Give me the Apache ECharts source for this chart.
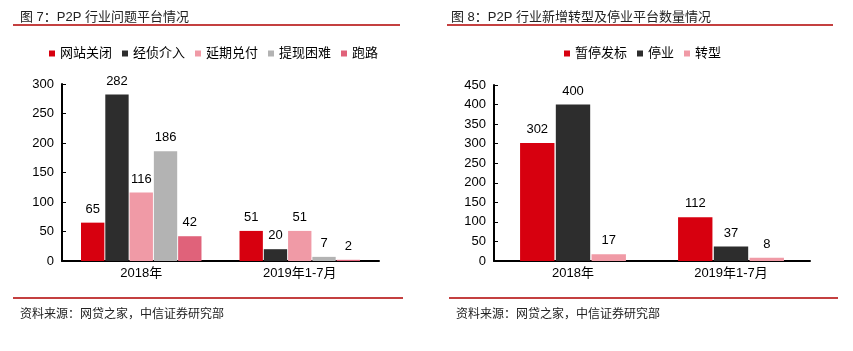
<!DOCTYPE html>
<html>
<head>
<meta charset="utf-8">
<script src="https://cdn.jsdelivr.net/npm/echarts@6/dist/echarts.min.js"></script>
<style>
html, body { margin: 0; padding: 0; background: #fff; }
#main { width: 853px; height: 351px; }
</style>
</head>
<body>
<div id="main"></div>
<script>
var categories = ["2018年", "2019年1-7月"];

// 图7
var names1 = ["网站关闭", "经侦介入", "延期兑付", "提现困难", "跑路"];
var colors1 = ["#d7000f", "#2d2d2d", "#f09aa6", "#b3b3b3", "#e0627a"];
var siteClosed = [65, 51];
var police = [282, 20];
var delayed = [116, 51];
var withdraw = [186, 7];
var runaway = [42, 2];
var values1 = [siteClosed, police, delayed, withdraw, runaway];
var ticks1 = { max: 300, interval: 50 };

// 图8
var names2 = ["暂停发标", "停业", "转型"];
var colors2 = ["#d7000f", "#2d2d2d", "#f09aa6"];
var paused = [302, 112];
var stopped = [400, 37];
var transformed = [17, 8];
var values2 = [paused, stopped, transformed];
var ticks2 = { max: 450, interval: 50 };

var fontFamily = "Liberation Sans, Arial, Noto Sans CJK SC, sans-serif";
var chart = echarts.init(document.getElementById("main"));

function makeSeries(names, colors, values, idx, catGap) {
    return names.map(function (n, i) {
        return {
            name: n,
            type: "bar",
            xAxisIndex: idx,
            yAxisIndex: idx,
            data: values[i],
            barGap: "4%",
            barCategoryGap: catGap,
            itemStyle: { color: colors[i] },
            label: {
                show: true,
                position: "top",
                distance: 7,
                color: "#000",
                fontSize: 13,
                fontFamily: fontFamily
            }
        };
    });
}

function xAxis(idx) {
    return {
        type: "category",
        gridIndex: idx,
        data: categories,
        axisLine: { lineStyle: { color: "#000", width: 2 } },
        axisTick: { inside: true, length: 4, lineStyle: { color: "#000" } },
        axisLabel: { color: "#000", fontSize: 13, margin: 6, fontFamily: fontFamily }
    };
}

function yAxis(idx, t) {
    return {
        type: "value",
        gridIndex: idx,
        min: 0,
        max: t.max,
        interval: t.interval,
        splitLine: { show: false },
        axisLine: { show: true, lineStyle: { color: "#000", width: 2 } },
        axisTick: { show: true, inside: true, length: 4, lineStyle: { color: "#000" } },
        axisLabel: { color: "#000", fontSize: 13, margin: 8, fontFamily: fontFamily }
    };
}

function hline(x1, x2, y) {
    return {
        type: "line",
        shape: { x1: x1, y1: y, x2: x2, y2: y },
        style: { stroke: "#b00000", lineWidth: 1.5 }
    };
}

var legendText = { color: "#000", fontSize: 13, fontFamily: fontFamily };

chart.setOption({
    animation: false,
    title: [
        { text: "图 7：P2P 行业问题平台情况", left: 15, top: 6, textStyle: { fontSize: 13, fontWeight: "normal", color: "#222", fontFamily: fontFamily } },
        { text: "图 8：P2P 行业新增转型及停业平台数量情况", left: 446, top: 6, textStyle: { fontSize: 13, fontWeight: "normal", color: "#222", fontFamily: fontFamily } },
        { text: "资料来源：网贷之家，中信证券研究部", left: 15, top: 304, textStyle: { fontSize: 12, fontWeight: "normal", color: "#222", fontFamily: fontFamily } },
        { text: "资料来源：网贷之家，中信证券研究部", left: 451, top: 304, textStyle: { fontSize: 12, fontWeight: "normal", color: "#222", fontFamily: fontFamily } }
    ],
    legend: [
        { data: names1, left: 44, top: 42, itemWidth: 6, itemHeight: 6, itemGap: 10, icon: "rect", textStyle: legendText },
        { data: names2, left: 559, top: 42, itemWidth: 6, itemHeight: 6, itemGap: 10, icon: "rect", textStyle: legendText }
    ],
    grid: [
        { left: 62, right: 474, top: 84, bottom: 90 },
        { left: 494, right: 43, top: 85, bottom: 90 }
    ],
    xAxis: [xAxis(0), xAxis(1)],
    yAxis: [yAxis(0, ticks1), yAxis(1, ticks2)],
    graphic: [
        hline(13, 400, 25),
        hline(447, 833, 25),
        hline(13, 403, 298),
        hline(449, 838, 298)
    ],
    series: makeSeries(names1, colors1, values1, 0, "24%").concat(makeSeries(names2, colors2, values2, 1, "33%"))
});
</script>
</body>
</html>
